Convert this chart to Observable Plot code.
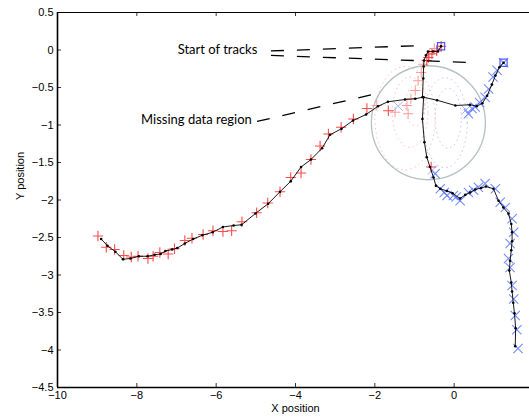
<!DOCTYPE html>
<html><head><meta charset="utf-8">
<script src="https://cdn.jsdelivr.net/npm/d3@7"></script>
<script src="https://cdn.jsdelivr.net/npm/@observablehq/plot@0.6"></script>
<style>body{margin:0;background:#fff;} #chart svg{overflow:visible;}</style>
</head><body><div id="chart"></div>
<script>
// axis ticks
const xTicks = [-10, -8, -6, -4, -2, 0];
const yTicks = [0.5, 0, -0.5, -1, -1.5, -2, -2.5, -3, -3.5, -4, -4.5];

// estimated track 1 (top start -> left)
const track1X = [-0.33,-0.41,-0.53,-0.66,-0.71,-0.76,-0.77,-0.78,-0.80,-0.98,-1.24,-1.67,-1.92,-2.22,-2.55,-2.84,-3.13,-3.33,-3.61,-3.86,-4.12,-4.39,-4.69,-5.01,-5.36,-5.56,-5.83,-6.09,-6.35,-6.58,-6.79,-6.98,-7.11,-7.28,-7.40,-7.55,-7.73,-7.95,-8.16,-8.35,-8.54,-8.74,-8.90];
const track1Y = [0.05,-0.02,-0.02,-0.02,-0.07,-0.14,-0.22,-0.38,-0.63,-0.65,-0.66,-0.69,-0.75,-0.86,-0.94,-1.05,-1.13,-1.31,-1.46,-1.56,-1.75,-1.89,-2.05,-2.18,-2.33,-2.34,-2.36,-2.43,-2.47,-2.52,-2.58,-2.64,-2.66,-2.68,-2.72,-2.73,-2.75,-2.75,-2.78,-2.79,-2.69,-2.61,-2.52];

// estimated track 2 (right start -> down)
const track2X = [1.245,1.14,1.04,0.95,0.83,0.71,0.57,0.40,0.03,-0.43,-0.77,-0.80,-0.75,-0.69,-0.61,-0.52,-0.46,-0.35,-0.18,-0.04,0.15,0.28,0.40,0.53,0.68,0.80,0.99,1.12,1.24,1.37,1.44,1.46,1.46,1.44,1.41,1.39,1.44,1.46,1.49,1.52,1.55,1.54];
const track2Y = [-0.17,-0.23,-0.34,-0.46,-0.61,-0.71,-0.75,-0.73,-0.74,-0.67,-0.63,-0.92,-1.23,-1.43,-1.56,-1.70,-1.81,-1.85,-1.88,-1.91,-1.98,-1.93,-1.90,-1.86,-1.84,-1.82,-1.85,-2.01,-2.10,-2.18,-2.32,-2.43,-2.55,-2.67,-2.81,-2.94,-3.10,-3.22,-3.37,-3.51,-3.71,-3.95];

// red "+" measurements
const redX = [-0.33,-0.44,-0.56,-0.65,-0.69,-1.66,-2.20,-2.54,-2.85,-3.17,-3.38,-3.61,-3.86,-4.12,-4.39,-4.70,-4.98,-5.35,-5.61,-5.83,-6.08,-6.33,-6.61,-6.79,-7.05,-7.21,-7.42,-7.59,-7.72,-7.97,-8.14,-8.33,-8.56,-8.77,-8.98,-0.58];
const redY = [0.05,-0.01,-0.05,-0.10,-0.14,-0.81,-0.78,-0.92,-1.03,-1.12,-1.28,-1.46,-1.64,-1.70,-1.89,-2.04,-2.17,-2.29,-2.41,-2.42,-2.41,-2.46,-2.51,-2.54,-2.65,-2.72,-2.70,-2.75,-2.78,-2.75,-2.76,-2.74,-2.66,-2.63,-2.48,-1.56];
// faint red "+" (missing data region)
const redFaintX = [-0.50,-0.62,-0.78,-0.83,-0.91,-0.98,-1.09,-1.19,-1.16,-1.49,-1.95];
const redFaintY = [0.02,-0.06,-0.19,-0.30,-0.41,-0.54,-0.65,-0.74,-0.85,-0.83,-0.74];

// blue "x" measurements
const blueX = [1.245,1.08,0.98,0.87,0.78,0.64,0.53,0.45,0.36,-0.48,-0.35,-0.18,-0.02,0.15,0.36,0.49,0.61,0.78,1.04,1.16,1.29,1.46,1.50,1.41,1.37,1.41,1.46,1.50,1.54,1.58,1.61,-0.25,0.05];
const blueY = [-0.17,-0.27,-0.36,-0.52,-0.63,-0.70,-0.76,-0.78,-0.85,-1.65,-1.85,-1.94,-1.94,-2.01,-1.90,-1.87,-1.83,-1.78,-1.85,-2.03,-2.10,-2.25,-2.43,-2.58,-2.78,-2.90,-3.14,-3.32,-3.54,-3.73,-3.98,-1.90,-1.96];
const blueFaintX = [-1.41, 0.30, -0.55];
const blueFaintY = [-0.75, -0.80, -1.60];

// start-of-track boxes
const startX = [-0.33, 1.245];
const startY = [0.05, -0.17];

// uncertainty ellipses in the missing data region
const ellRedCX = [-1.24, -1.11, -0.98];
const ellRedCY = [-0.91, -0.83, -0.74];
const ellRedRX = [0.76, 0.45, 0.25];
const ellRedRY = [0.69, 0.47, 0.27];
const ellBlueCX = [-0.23, -0.15];
const ellBlueCY = [-0.97, -0.91];
const ellBlueRX = [0.56, 0.33];
const ellBlueRY = [0.60, 0.40];

// missing region circle centre
const regionX = [-0.65];
const regionY = [-0.97];

// annotations
const labelStart = "Start of tracks";
const labelStartX = -6.97, labelStartY = 0.0;
const labelMissing = "Missing data region";
const labelMissingX = -5.10, labelMissingY = -0.935;
const leaderX1 = [-4.62, -4.62, -4.97];
const leaderY1 = [-0.013, -0.073, -0.953];
const leaderX2 = [-0.81, 0.61, -1.95];
const leaderY2 = [0.06, -0.17, -0.58];

const pts = (X, Y) => X.map((x, i) => ({x, y: Y[i]}));
function ellipses(CX, CY, RX, RY) {
  const out = [];
  CX.forEach((cx, i) => {
    for (let k = 0; k <= 90; k++) {
      const t = 2 * Math.PI * k / 90;
      out.push({id: i, x: cx + RX[i] * Math.cos(t), y: CY[i] + RY[i] * Math.sin(t)});
    }
  });
  return out;
}
const fmt = d => String(d).replace("-", "\u2212");

const t1 = pts(track1X, track1Y), t2 = pts(track2X, track2Y);
const font = "'Liberation Sans', Arial, Helvetica, sans-serif";

const chart = Plot.plot({
  width: 529, height: 417,
  marginLeft: 57, marginRight: -4, marginTop: 12, marginBottom: 30,
  style: {fontFamily: font, fontSize: "11px", background: "white", color: "black"},
  x: {domain: [-10, 2]},
  y: {domain: [-4.5, 0.5]},
  marks: [
    Plot.dot(pts(regionX, regionY), {x: "x", y: "y", r: 57, stroke: "#b4c2c2", strokeWidth: 1.3, fill: "none"}),
    Plot.line(ellipses(ellRedCX, ellRedCY, ellRedRX, ellRedRY), {x: "x", y: "y", z: "id", stroke: "#ff9090", strokeWidth: 1, strokeDasharray: "0.7,4", strokeOpacity: 0.55}),
    Plot.line(ellipses(ellBlueCX, ellBlueCY, ellBlueRX, ellBlueRY), {x: "x", y: "y", z: "id", stroke: "#8a98ff", strokeWidth: 1, strokeDasharray: "0.7,4", strokeOpacity: 0.55}),
    Plot.dot(pts(redFaintX, redFaintY), {x: "x", y: "y", symbol: "plus", r: 3.4, stroke: "#ff9a9a", strokeWidth: 1}),
    Plot.dot(pts(blueFaintX, blueFaintY), {x: "x", y: "y", symbol: "times", r: 4.3, stroke: "#a8b4ff", strokeWidth: 1}),
    Plot.dot(pts(redX, redY), {x: "x", y: "y", symbol: "plus", r: 3.4, stroke: "#ff2a2a", strokeWidth: 1.1, strokeOpacity: 0.85}),
    Plot.dot(pts(blueX, blueY), {x: "x", y: "y", symbol: "times", r: 4.3, stroke: "#5c78ff", strokeWidth: 1.1, strokeOpacity: 0.85}),
    Plot.dot(pts(startX, startY), {x: "x", y: "y", symbol: "square", r: 4, stroke: "#4a5cff", strokeWidth: 1.2, fill: "none"}),
    Plot.line(t1, {x: "x", y: "y", stroke: "black", strokeWidth: 0.9}),
    Plot.line(t2, {x: "x", y: "y", stroke: "black", strokeWidth: 0.9}),
    Plot.dot(t1, {x: "x", y: "y", r: 1.3, fill: "black", stroke: "none"}),
    Plot.dot(t2, {x: "x", y: "y", r: 1.3, fill: "black", stroke: "none"}),
    // annotation leaders
    Plot.link(leaderX1.map((d, i) => i), {x1: i => leaderX1[i], y1: i => leaderY1[i], x2: i => leaderX2[i], y2: i => leaderY2[i], stroke: "black", strokeWidth: 1.3, strokeDasharray: "13,13"}),
    Plot.text([labelStart], {x: labelStartX, y: labelStartY, text: d => d, textAnchor: "start", fontFamily: "Lato, sans-serif", fontSize: 13, fill: "black"}),
    Plot.text([labelMissing], {x: labelMissingX, y: labelMissingY, text: d => d, textAnchor: "end", fontFamily: "Lato, sans-serif", fontSize: 13, fill: "black"}),
    // frame and inward ticks
    Plot.frame({stroke: "black", strokeWidth: 1}),
    Plot.ruleY([-4.5], {stroke: "black", strokeWidth: 1.6}),
    Plot.ruleX([-10], {stroke: "black", strokeWidth: 1.6}),
    Plot.ruleX(xTicks, {x: d => d, y1: -4.5, y2: -4.5, insetTop: -4, stroke: "black", strokeWidth: 0.8}),
    Plot.ruleX(xTicks, {x: d => d, y1: 0.5, y2: 0.5, insetBottom: -4, stroke: "black", strokeWidth: 0.8}),
    Plot.ruleY(yTicks, {y: d => d, x1: -10, x2: -10, insetRight: -4, stroke: "black", strokeWidth: 0.8}),
    Plot.ruleY(yTicks, {y: d => d, x1: 2, x2: 2, insetLeft: -4, stroke: "black", strokeWidth: 0.8}),
    Plot.axisX(xTicks, {anchor: "bottom", tickSize: 0, tickPadding: 4, label: null, fontSize: 11, tickFormat: fmt}),
    Plot.axisY(yTicks, {anchor: "left", tickSize: 0, tickPadding: 4, label: null, fontSize: 11, tickFormat: fmt}),
    Plot.text(["X position"], {frameAnchor: "bottom", dy: 24, fontSize: 11, fill: "black"}),
    Plot.text(["Y position"], {frameAnchor: "left", dx: -37, rotate: -90, fontSize: 11, fill: "black"})
  ]
});
document.getElementById("chart").appendChild(chart);
</script>
</body></html>
